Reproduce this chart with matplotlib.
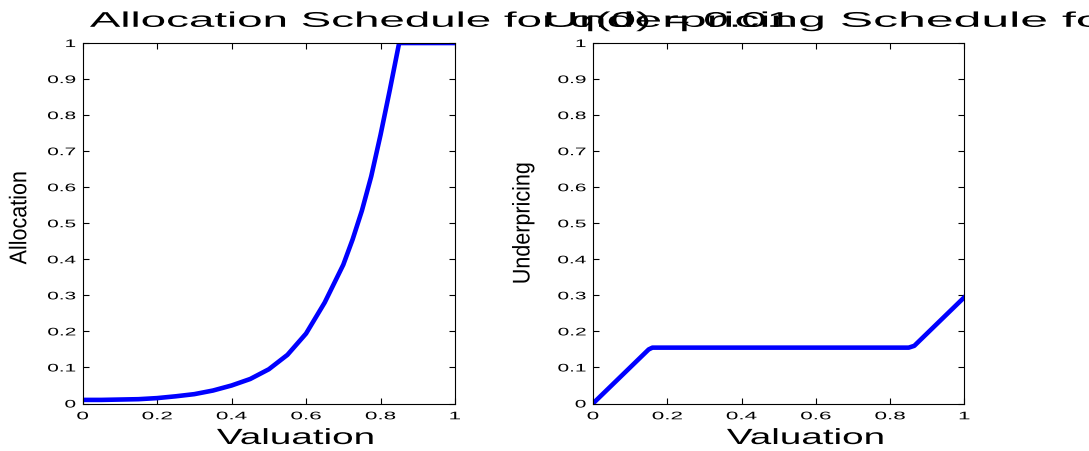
import matplotlib
matplotlib.use('Agg')
import matplotlib.pyplot as plt
from matplotlib.patheffects import AbstractPathEffect
from matplotlib.transforms import Affine2D

# data
valuation = [0.0, 0.05, 0.10, 0.15, 0.20, 0.25, 0.30, 0.35, 0.40, 0.45, 0.50,
             0.55, 0.60, 0.65, 0.70, 0.725, 0.75, 0.775, 0.80, 0.825, 0.85,
             0.90, 0.95, 1.0]
allocation = [0.010, 0.010, 0.011, 0.012, 0.015, 0.020, 0.026, 0.036, 0.050, 0.068, 0.095,
              0.135, 0.194, 0.280, 0.385, 0.455, 0.535, 0.630, 0.745, 0.870, 1.0,
              1.0, 1.0, 1.0]

under_x = [0.0, 0.15, 0.16, 0.85, 0.865, 1.0]
under_y = [0.0, 0.15, 0.155, 0.155, 0.16, 0.295]

xticks = [0, 0.2, 0.4, 0.6, 0.8, 1]
xticklabels = ['0', '0.2', '0.4', '0.6', '0.8', '1']
yticks = [0, 0.1, 0.2, 0.3, 0.4, 0.5, 0.6, 0.7, 0.8, 0.9, 1]
yticklabels = ['0', '0.1', '0.2', '0.3', '0.4', '0.5', '0.6', '0.7', '0.8', '0.9', '1']

titles = ['Allocation Schedule for q(0) = 0.01', 'Underpricing Schedule for q(0) = 0.01']
ylabels = ['Allocation', 'Underpricing']


class StretchX(AbstractPathEffect):
    # the exported figure has its text stretched sideways
    def __init__(self, sx, anchor='center'):
        super().__init__()
        self.sx = sx
        self.anchor = anchor

    def draw_path(self, renderer, gc, tpath, affine, rgbFace=None):
        ext = tpath.get_extents(affine)
        if self.anchor == 'left':
            x0 = ext.x0
        elif self.anchor == 'right':
            x0 = ext.x1
        else:
            x0 = 0.5 * (ext.x0 + ext.x1)
        st = Affine2D().translate(-x0, 0).scale(self.sx, 1).translate(x0, 0)
        renderer.draw_path(gc, tpath, affine + st, rgbFace)


plt.rcParams['font.family'] = ['Liberation Sans', 'DejaVu Sans']

fig = plt.figure(figsize=(10.89, 4.51), dpi=100)
ax1 = fig.add_axes([0.0759, 0.1053, 0.3419, 0.7993])
ax2 = fig.add_axes([0.5445, 0.1053, 0.3411, 0.7993])

ax1.plot(valuation, allocation, color=(0, 0, 1), lw=3.3, solid_joinstyle='round')
ax2.plot(under_x, under_y, color=(0, 0, 1), lw=3.3, solid_joinstyle='round')

title_x = [0.0196, -0.129]
title_sx = [2.15, 2.35]
ylab_x = [-0.138, -0.156]
ylab_y = [0.515, 0.5]

for i, ax in enumerate([ax1, ax2]):
    ax.set_xlim(0, 1)
    ax.set_ylim(0, 1)
    ax.set_xticks(xticks)
    ax.set_xticklabels(xticklabels)
    ax.set_yticks(yticks)
    ax.set_yticklabels(yticklabels)
    ax.tick_params(direction='in', top=True, right=True, length=4.5, width=0.8,
                   labelsize=7.9)
    ax.tick_params(axis='x', pad=5.6)
    ax.tick_params(axis='y', pad=5.0)
    for sp in ax.spines.values():
        sp.set_linewidth(0.8)
    for lab in ax.get_xticklabels():
        lab.set_path_effects([StretchX(2.05, 'center')])
    for lab in ax.get_yticklabels():
        lab.set_path_effects([StretchX(1.9, 'right')])

    t = ax.set_title(titles[i], loc='left', x=title_x[i], y=1.045, pad=0,
                     va='baseline', fontsize=15.3)
    t.set_path_effects([StretchX(title_sx[i], 'left')])

    xl = ax.set_xlabel('Valuation', fontsize=15.8)
    ax.xaxis.set_label_coords(0.3607, -0.1123)
    xl.set_ha('left')
    xl.set_va('baseline')
    xl.set_path_effects([StretchX(1.76, 'left')])

    yl = ax.set_ylabel(ylabels[i], fontsize=15.5)
    ax.yaxis.set_label_coords(ylab_x[i], ylab_y[i])
    yl.set_path_effects([StretchX(1.12, 'right')])

fig.savefig('out.png', dpi=100)
